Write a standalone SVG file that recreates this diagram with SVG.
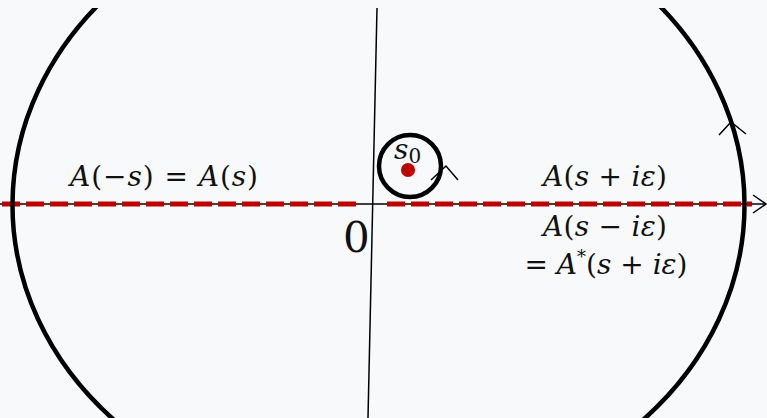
<svg xmlns="http://www.w3.org/2000/svg" width="767" height="418" viewBox="0 0 767 418">
<style>
.math{font-family:"DejaVu Serif","Liberation Serif",serif;font-size:28px;fill:#111}
.v{font-style:italic}
.thin{stroke:#000;stroke-width:1.5;fill:none}
.thick{stroke:#000;stroke-width:4.5;fill:none}
.red{stroke:#c00000;stroke-width:5;stroke-dasharray:18 6;fill:none}
</style>
<defs>
<clipPath id="clip"><rect x="0" y="8" width="767" height="410"/></clipPath>
</defs>
<rect width="767" height="418" fill="#f8f9fb"/>
<g id="connectors">
<line class="thin" x1="0" y1="204" x2="765" y2="204"/>
<polyline class="thin" points="753,195 766,204 753,213"/>
<line class="thin" x1="377" y1="8" x2="368" y2="418"/>
<line class="red" x1="2" y1="204" x2="357" y2="204"/>
<line class="red" x1="387" y1="204" x2="752" y2="204"/>
</g>
<g id="contour">
<ellipse class="thick" cx="378.5" cy="205" rx="366" ry="311" clip-path="url(#clip)"/>
<polyline class="thin" stroke-width="2" points="719,135 731,122 746,134"/>
</g>
<g id="pole">
<circle class="thick" cx="410" cy="166" r="31"/>
<polyline class="thin" stroke-width="2" points="431,180 446,166 458,180"/>
<circle cx="408" cy="170" r="7" fill="#c00000"/>
<text class="math" x="394" y="159"><tspan class="v">s</tspan><tspan style="font-size:20px" dy="4">0</tspan></text>
</g>
<g id="origin">
<text class="math" x="343" y="252" style="font-size:42px">0</text>
</g>
<g id="labels">
<text class="math" x="164" y="186" text-anchor="middle" textLength="188"><tspan class="v">A</tspan>(−<tspan class="v">s</tspan>) = <tspan class="v">A</tspan>(<tspan class="v">s</tspan>)</text>
<text class="math" x="605" y="186" text-anchor="middle" textLength="124"><tspan class="v">A</tspan>(<tspan class="v">s</tspan> + <tspan class="v">iε</tspan>)</text>
<text class="math" x="605" y="236" text-anchor="middle" textLength="124"><tspan class="v">A</tspan>(<tspan class="v">s</tspan> − <tspan class="v">iε</tspan>)</text>
<text class="math" x="606" y="274" text-anchor="middle">= <tspan class="v">A</tspan><tspan style="font-size:18px" dy="-11">*</tspan><tspan dy="11">(</tspan><tspan class="v">s</tspan> + <tspan class="v">iε</tspan>)</text>
</g>
</svg>
